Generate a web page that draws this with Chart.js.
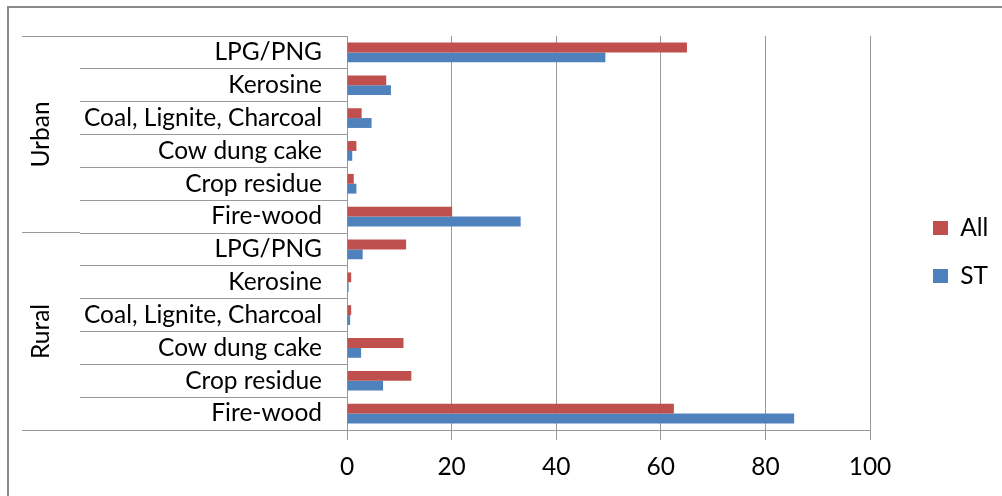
<!DOCTYPE html>
<html><head><meta charset="utf-8">
<script src="https://cdn.jsdelivr.net/npm/chart.js@4"></script>
<style>
html,body{margin:0;padding:0;background:#fff;}
#wrap{position:relative;width:1002px;height:496px;overflow:hidden;}
#frame{position:absolute;left:7px;top:6px;width:1100px;height:600px;border-left:2px solid #8a8a8a;border-top:2px solid #8a8a8a;}
canvas{position:absolute;left:0;top:0;}
</style></head><body>
<div id="wrap"><div id="frame"></div><canvas id="c" width="1002" height="496"></canvas></div>
<script>
// ---- data ----
const categories = ['LPG/PNG','Kerosine','Coal, Lignite, Charcoal','Cow dung cake','Crop residue','Fire-wood',
                    'LPG/PNG','Kerosine','Coal, Lignite, Charcoal','Cow dung cake','Crop residue','Fire-wood'];
const groups = ['Urban','Rural'];
const groupSizes = [6, 6];
const allValues = [65.0, 7.5, 2.8, 1.8, 1.3, 20.1, 11.3, 0.8, 0.8, 10.8, 12.3, 62.5];
const stValues  = [49.4, 8.4, 4.7, 1.0, 1.8, 33.2, 3.0, 0.3, 0.6, 2.7, 6.9, 85.5];
const seriesNames = ['All', 'ST'];
const xTicks = [0, 20, 40, 60, 80, 100];

// ---- styles ----
const FONT = 'Lato';
const FS = 24.5;
const GRID = '#999999';
const RED = '#C0504D';
const BLUE = '#4F81BD';
const Y_AXIS_RIGHT = 347;
const Y_TICK_LEN = 267;
const LEGEND_W = 132;
const LEG_DX = 39.5;
const LEG_DY = -12.7;

const legendFix = {
  id: 'legendFix',
  beforeLayout(chart) {
    const lg = chart.legend;
    if (lg && !lg._fixed) {
      const f = lg.fit;
      lg.fit = function () { f.call(this); this.width = LEGEND_W; };
      lg._fixed = true;
    }
  },
  afterLayout(chart) {
    const lg = chart.legend;
    lg.left += LEG_DX; lg.right += LEG_DX;
    lg.top += LEG_DY; lg.bottom += LEG_DY;
  }
};

const groupAxis = {
  id: 'groupAxis',
  afterDraw(chart) {
    const y = chart.scales.y;
    const ctx = chart.ctx;
    const step = y.getPixelForValue(1) - y.getPixelForValue(0);
    const align = p => Math.round(p - 0.5) + 0.5;
    ctx.save();
    ctx.strokeStyle = GRID;
    ctx.lineWidth = 1;
    let start = 0;
    const bounds = [];
    groups.forEach((g, gi) => {
      const n = groupSizes[gi];
      const top = y.getPixelForValue(start) - step / 2;
      const bot = y.getPixelForValue(start + n - 1) + step / 2;
      if (!bounds.length) bounds.push(top);
      bounds.push(bot);
      ctx.save();
      ctx.translate(41, (top + bot) / 2);
      ctx.rotate(-Math.PI / 2);
      ctx.font = FS + 'px ' + FONT;
      ctx.fillStyle = '#000';
      ctx.textAlign = 'center';
      ctx.textBaseline = 'middle';
      ctx.fillText(g, 0, 0);
      ctx.restore();
      start += n;
    });
    bounds.forEach(b => {
      ctx.beginPath();
      ctx.moveTo(22, align(b));
      ctx.lineTo(y.right - Y_TICK_LEN, align(b));
      ctx.stroke();
    });
    ctx.restore();
  }
};

new Chart(document.getElementById('c'), {
  type: 'bar',
  data: {
    labels: categories,
    datasets: [
      { label: seriesNames[0], data: allValues, backgroundColor: RED, categoryPercentage: 0.6, barPercentage: 1.0 },
      { label: seriesNames[1], data: stValues, backgroundColor: BLUE, categoryPercentage: 0.6, barPercentage: 1.0 }
    ]
  },
  options: {
    indexAxis: 'y',
    responsive: false,
    animation: false,
    devicePixelRatio: 1,
    layout: { padding: { left: 0, top: 36, right: 0, bottom: 2.6 } },
    plugins: {
      legend: {
        position: 'right',
        align: 'center',
        labels: {
          boxWidth: 15, boxHeight: 14, padding: 23.5,
          color: '#000',
          font: { family: FONT, size: FS }
        }
      },
      tooltip: { enabled: false }
    },
    scales: {
      x: {
        min: xTicks[0], max: xTicks[xTicks.length - 1],
        afterBuildTicks(scale) { scale.ticks = xTicks.map(v => ({ value: v })); },
        grid: { color: GRID, tickLength: 10, lineWidth: 1 },
        border: { color: GRID, width: 1 },
        ticks: { color: '#000', padding: 12, font: { family: FONT, size: FS } }
      },
      y: {
        grid: { offset: true, drawOnChartArea: false, drawTicks: true, tickLength: Y_TICK_LEN, color: GRID },
        border: { color: GRID, width: 1 },
        ticks: { color: '#000', padding: -242, autoSkip: false, font: { family: FONT, size: FS } },
        afterFit(scale) { scale.width = Y_AXIS_RIGHT; }
      }
    }
  },
  plugins: [legendFix, groupAxis]
});
</script>
</body></html>
